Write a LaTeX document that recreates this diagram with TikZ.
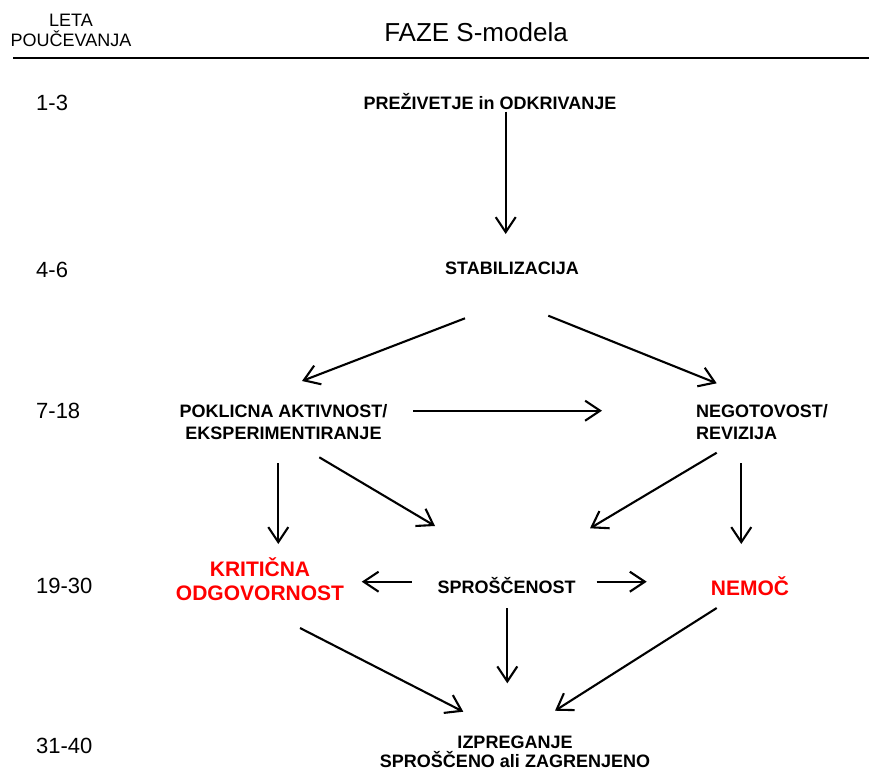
\documentclass[tikz,border=0pt]{standalone}
\usepackage{fontspec}
\setmainfont{Liberation Sans}
\usepackage{tikz}
\usetikzlibrary{arrows.meta}
\usetikzlibrary{calc}

\begin{document}
\begin{tikzpicture}[x=1pt, y=-1pt,
    arr/.style={-{Straight Barb[length=15pt, width=20pt]}, line width=2.1pt},
    phase/.style={font=\fontsize{18}{22}\selectfont\bfseries, inner sep=0pt, align=center},
    crit/.style={font=\fontsize{21}{24}\selectfont\bfseries, text=red, inner sep=0pt, align=center},
    year/.style={font=\fontsize{22}{26}\selectfont, inner sep=0pt, anchor=west}]

    % Page frame
    \useasboundingbox (0,0) rectangle (869,774);

    % Header
    \node[font=\fontsize{18}{20}\selectfont, inner sep=0pt, align=center] (leta) at (71,30) {LETA\\POUČEVANJA};
    \node[font=\fontsize{26}{30}\selectfont, inner sep=0pt] (faze) at (476,32) {FAZE S-modela};
    \draw[line width=2.2pt] (13,58) -- (869,58);

    % Labels: years of teaching
    \node[year] (y1) at (36,103) {1-3};
    \node[year] (y2) at (36,270) {4-6};
    \node[year] (y3) at (36,411) {7-18};
    \node[year] (y4) at (36,586) {19-30};
    \node[year] (y5) at (36,746) {31-40};

    % Phases
    \node[phase] (prez) at (490,102) {PREŽIVETJE in ODKRIVANJE};
    \node[phase] (stab) at (512,268) {STABILIZACIJA};
    \node[phase] (pokl) at (283.5,422) {POKLICNA AKTIVNOST/\\EKSPERIMENTIRANJE};
    \node[phase, align=left, anchor=west] (nego) at (696,422) {NEGOTOVOST/\\REVIZIJA};
    \node[crit] (krit) at (260,579.5) {KRITIČNA\\ODGOVORNOST};
    \node[phase] (spro) at (506.7,586) {SPROŠČENOST};
    \node[crit] (nemoc) at (750,586) {NEMOČ};
    \node[phase, font=\fontsize{18}{19}\selectfont\bfseries] (izpr) at (515,752) {IZPREGANJE\\SPROŠČENO ali ZAGRENJENO};

    % Arrows: first years
    \draw[arr] ([shift={(15.7,9.7)}]prez.center) -- ([shift={(-6.3,-34)}]stab.center);
    \draw[arr] ([shift={(-47,50.3)}]stab.center) -- ([shift={(18.5,-41)}]pokl.center);
    \draw[arr] ([shift={(36.3,47.7)}]stab.center) -- ([shift={(20.7,-38.7)}]nego.west);

    % Arrows: middle years
    \draw[arr] ([shift={(129.5,-11.3)}]pokl.center) -- ([shift={(-94,-11.3)}]nego.west);
    \draw[arr] ([shift={(-5.2,41.3)}]pokl.center) -- ([shift={(18.3,-35.5)}]krit.center);
    \draw[arr] ([shift={(35.8,35.3)}]pokl.center) -- ([shift={(-71.7,-60)}]spro.center);
    \draw[arr] ([shift={(20.7,30.7)}]nego.west) -- ([shift={(83.3,-57.7)}]spro.center);
    \draw[arr] ([shift={(45.3,41.3)}]nego.west) -- ([shift={(-8.7,-42)}]nemoc.center);
    \draw[arr] ([shift={(-95,-4.3)}]spro.center) -- ([shift={(101.7,2.2)}]krit.center);
    \draw[arr] ([shift={(90,-4.3)}]spro.center) -- ([shift={(-103.3,-4.3)}]nemoc.center);

    % Arrows: last years
    \draw[arr] ([shift={(40,48.5)}]krit.center) -- ([shift={(-51.7,-40.3)}]izpr.center);
    \draw[arr] ([shift={(0.6,22.3)}]spro.center) -- ([shift={(-7.7,-68.7)}]izpr.center);
    \draw[arr] ([shift={(-33.3,22)}]nemoc.center) -- ([shift={(40,-41.3)}]izpr.center);

\end{tikzpicture}
\end{document}
